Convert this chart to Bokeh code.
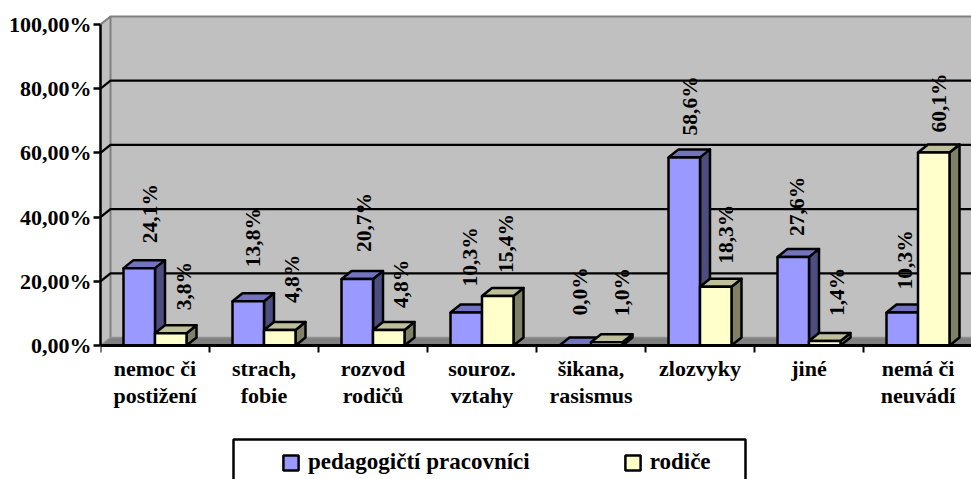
from bokeh.plotting import figure
from bokeh.models import (Range1d, LinearAxis, FixedTicker, Legend, LegendItem, BoxAnnotation, ColumnDataSource)
from bokeh.core.properties import value
from bokeh.embed import file_html
from bokeh.resources import INLINE
import numpy as np

categories = ["nemoc či\npostižení", "strach,\nfobie", "rozvod\nrodičů", "souroz.\nvztahy",
              "šikana,\nrasismus", "zlozvyky", "jiné", "nemá či\nneuvádí"]
pedagogove = [24.1, 13.8, 20.7, 10.3, 0.0, 58.6, 27.6, 10.3]
rodice = [3.8, 4.8, 4.8, 15.4, 1.0, 18.3, 1.4, 60.1]
y_ticks = [0, 20, 40, 60, 80, 100]
y_tick_labels = ["0,00%", "20,00%", "40,00%", "60,00%", "80,00%", "100,00%"]
series_names = ["pedagogičtí pracovníci", "rodiče"]

# label nudges in pixels (x right, y down) relative to the top of each bar's front
ped_dx = [11, 5, 7, 4, 5, 6, 4, 3]
ped_dy = [-25, -34, -27, -26, -30, -22, -21, -23]
rod_dx = [13, 12, 12, 8, 15, 10, 12, 5]
rod_dy = [-23, -27, -22, -23, -26, -23, -25, -20]

FONT = "Liberation Serif"
FS = "22px"
PX_X = 1 / 109
PX_Y = 100 / 321
DX = 10 * PX_X
DY = 8 * PX_Y
BW = 31.5 * PX_X
XMAX = 871 * PX_X
YMAX = 335 * PX_Y
YMIN = -134 * PX_Y

p = figure(width=971, height=479, output_backend="svg", toolbar_location=None,
           x_range=Range1d(0, XMAX), y_range=Range1d(YMIN, YMAX),
           x_axis_type=None, y_axis_type=None,
           min_border_left=100, min_border_right=0, min_border_top=10, min_border_bottom=0,
           outline_line_color=None, background_fill_color="white")
p.grid.visible = False

# walls
p.patch([0, DX, DX, 0], [0, DY, 100 + DY, 100], fill_color="#C0C0C0", line_color=None)
p.patch([DX, XMAX, XMAX, DX], [DY, DY, 100 + DY, 100 + DY], fill_color="#C0C0C0", line_color=None)
p.patch([0, DX, XMAX, XMAX], [0, DY, DY, 0], fill_color="#808080", line_color=None)
p.line([0, DX, DX, XMAX], [100, 100 + DY, 100 + DY, 100 + DY], line_color="#808080", line_width=2)
p.line([DX, DX], [DY, 100 + DY], line_color="#808080", line_width=2)
p.line([0, DX, XMAX], [0, DY, DY], line_color="#909090", line_width=1.5)

# gridlines with their diagonal stubs
for t in y_ticks[1:-1]:
    p.line([0, DX, XMAX], [t, t + DY, t + DY], line_color="black", line_width=2.3)


def bars(vals, offset, front, side, top):
    vals = np.array(vals)
    x = np.arange(len(vals)) + 0.5 + offset
    l, r = x - BW / 2, x + BW / 2
    xs_s = [[a, a + DX, a + DX, a] for a in r]
    ys_s = [[0, DY, v + DY, v] for v in vals]
    p.patches(xs_s, ys_s, fill_color=side, line_color="black", line_width=2.5, line_join="round")
    xs_t = [[a, a + DX, b + DX, b] for a, b in zip(l, r)]
    ys_t = [[v, v + DY, v + DY, v] for v in vals]
    p.patches(xs_t, ys_t, fill_color=top, line_color="black", line_width=2.5, line_join="round")
    return p.vbar(x=x, top=vals, bottom=0, width=BW, fill_color=front, line_color="black", line_width=2.5)


r1 = bars(pedagogove, -BW / 2, "#9999FF", "#4D4D80", "#7373BF")
r2 = bars(rodice, BW / 2, "#FFFFCC", "#808066", "#BFBF99")


def labels(vals, offset, dx, dy):
    x = np.arange(len(vals)) + 0.5 + offset
    src = ColumnDataSource(dict(x=x, y=vals, t=[f"{v:.1f}%".replace(".", ",") for v in vals], dx=dx, dy=dy))
    p.text("x", "y", text="t", source=src, x_offset="dx", y_offset="dy", angle=np.pi / 2,
           text_font=value(FONT), text_font_size=value("21.5px"), text_font_style="bold",
           text_align="left", text_baseline="middle", text_color="black")


labels(pedagogove, -BW / 2, ped_dx, ped_dy)
labels(rodice, BW / 2, rod_dx, rod_dy)

# axes
xa = LinearAxis(ticker=FixedTicker(ticks=[i + 0.5 for i in range(len(categories))],
                                   minor_ticks=list(range(len(categories) + 1))),
                fixed_location=0,
                major_label_overrides={i + 0.5: c for i, c in enumerate(categories)},
                axis_line_color="black", axis_line_width=3,
                major_tick_in=0, major_tick_out=0, minor_tick_in=0, minor_tick_out=7,
                minor_tick_line_color="black", minor_tick_line_width=2,
                major_label_standoff=3, major_label_text_font=FONT, major_label_text_font_size=FS,
                major_label_text_font_style="bold", major_label_text_color="black",
                major_label_text_line_height=1.1,
                major_label_orientation="horizontal")
p.add_layout(xa, "below")
ya = LinearAxis(ticker=FixedTicker(ticks=y_ticks), bounds=(0, 100),
                major_label_overrides=dict(zip(y_ticks, y_tick_labels)),
                axis_line_color="black", axis_line_width=2.5,
                major_tick_in=0, major_tick_out=7, major_tick_line_color="black", major_tick_line_width=2.5,
                minor_tick_in=0, minor_tick_out=0,
                major_label_standoff=2, major_label_text_font=FONT, major_label_text_font_size=FS,
                major_label_text_font_style="bold", major_label_text_color="black")
p.add_layout(ya, "left")

# legend
p.add_layout(BoxAnnotation(left=233, right=745, top=439, bottom=500, left_units="canvas", right_units="canvas",
                           top_units="canvas", bottom_units="canvas", fill_color="white", fill_alpha=1,
                           line_color="black", line_alpha=1, line_width=2.5, level="overlay"))
legend = Legend(items=[LegendItem(label=series_names[0], renderers=[r1]),
                       LegendItem(label=series_names[1], renderers=[r2])],
                orientation="horizontal", location=(181, 4), padding=0, margin=0, spacing=93,
                glyph_width=19, glyph_height=19, label_standoff=8,
                label_text_font=FONT, label_text_font_size="23px", label_text_font_style="bold",
                label_text_color="black", border_line_color=None, background_fill_alpha=0, level="overlay")
p.add_layout(legend, "center")

open("out.html", "w").write(file_html(p, INLINE))
